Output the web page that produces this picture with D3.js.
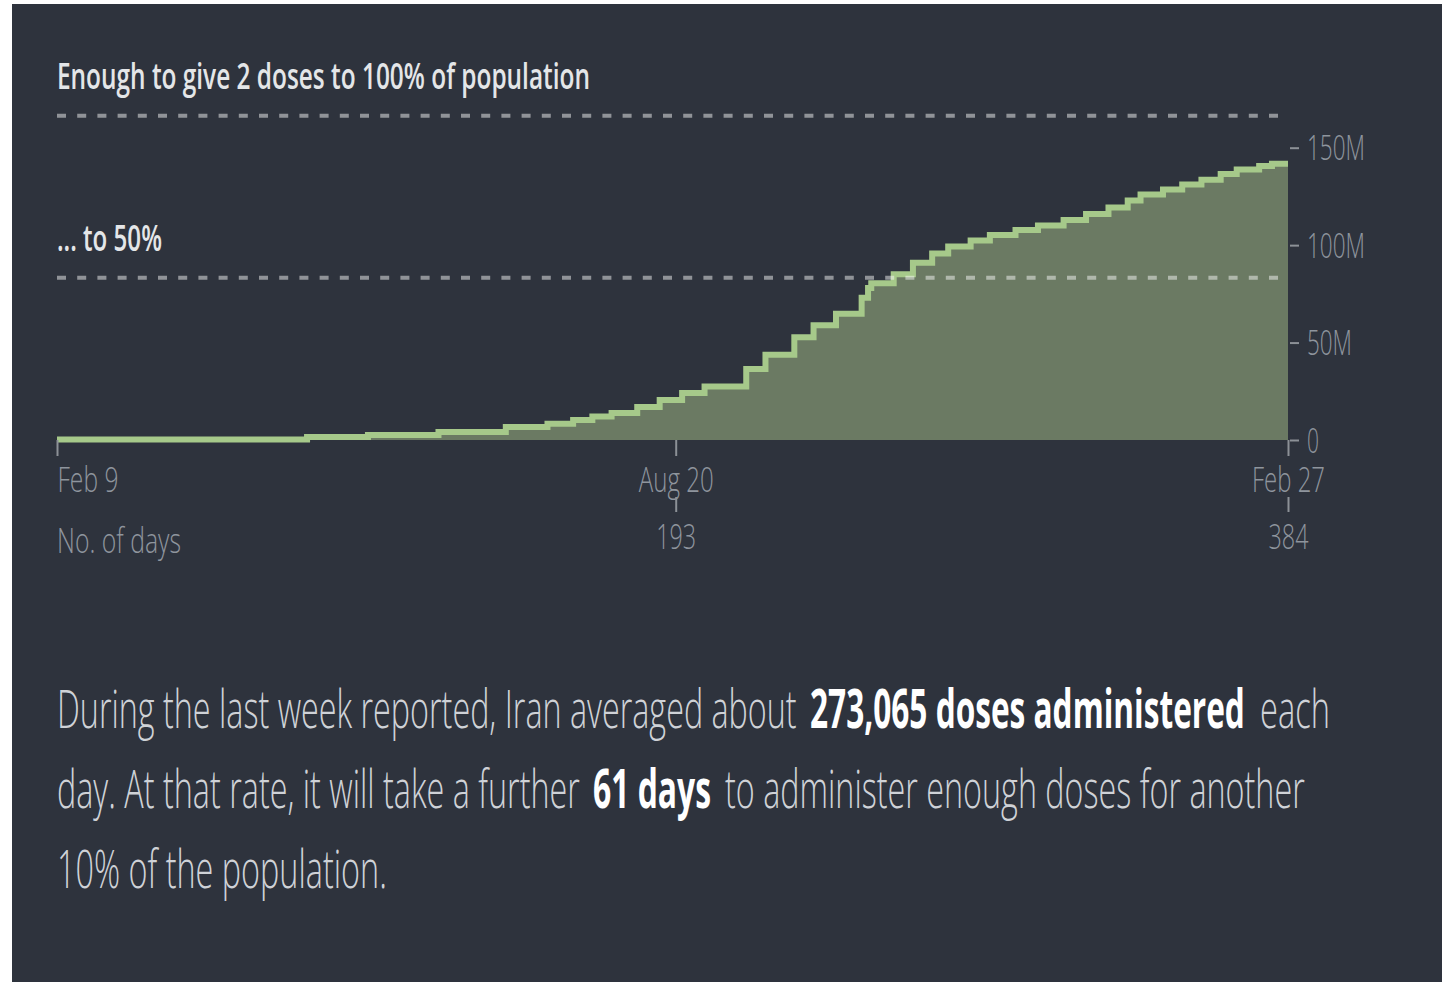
<!DOCTYPE html>
<html>
<head>
<meta charset="utf-8">
<script src="https://cdn.jsdelivr.net/npm/d3@7"></script>
<style>
  html, body { margin: 0; padding: 0; background: #ffffff; }
  svg { display: block; }
</style>
</head>
<body>
<script>
// ---------------- DATA ----------------
// days since Feb 9 (step start) and cumulative doses administered (millions)
const stepDays = [0, 78, 97, 119, 140, 153, 161, 167, 173, 181, 188, 195, 202, 215, 221, 230, 236, 243, 251, 253, 254, 261, 267, 273, 278, 285, 291, 299, 306, 314, 321, 328, 334, 338, 345, 351, 357, 363, 368, 375, 379, 384];
const dosesM  = [0.3, 1.5, 2.6, 4.1, 6.7, 8.4, 10.2, 12.0, 13.8, 16.9, 20.5, 24.1, 27.4, 36.4, 43.8, 52.7, 58.9, 64.8, 73.0, 78.0, 80.5, 85.0, 91.0, 95.7, 99.3, 102.4, 105.2, 107.8, 110.1, 112.9, 116.0, 119.3, 122.9, 126.0, 128.5, 131.1, 133.6, 136.5, 138.8, 140.6, 141.8, 141.8];
const populationM = 83.2;
const thresholdLabels = ["Enough to give 2 doses to 100% of population", "... to 50%"];
const thresholdValuesM = [2 * populationM, populationM];
const dateTickDays = [0, 193, 384];
const dateTickLabels = ["Feb 9", "Aug 20", "Feb 27"];
const countTickDays = [193, 384];
const countTickLabels = ["193", "384"];
const countAxisTitle = "No. of days";
const yTickValuesM = [0, 50, 100, 150];
const yTickLabels = ["0", "50M", "100M", "150M"];
const paragraph = [
  [{t: "During the last week reported, Iran averaged about", b: false}, {t: "273,065 doses administered", b: true}, {t: "each", b: false}],
  [{t: "day. At that rate, it will take a further", b: false}, {t: "61 days", b: true}, {t: "to administer enough doses for another", b: false}],
  [{t: "10% of the population.", b: false}]
];

// ---------------- LAYOUT ----------------
const W = 1450, H = 982;
const svg = d3.select("body").append("svg").attr("width", W).attr("height", H);
svg.append("rect").attr("x", 12).attr("y", 4).attr("width", 1430).attr("height", H - 4).attr("fill", "#2e333d");

const x = d3.scaleLinear().domain([0, 384]).range([57, 1288]);
const y = d3.scaleLinear().domain([0, 150]).range([440, 147.7]);

const data = stepDays.map((d, i) => ({d, v: dosesM[i]}));

const FONT = "'Open Sans', 'Noto Sans', Lato, sans-serif";

// condense a text horizontally to a target width (keeps it real text)
function fit(sel, widthFn) {
  sel.each(function (d, i) {
    const el = d3.select(this);
    const w = typeof widthFn === "function" ? widthFn(d, i) : widthFn;
    const nat = this.getComputedTextLength();
    const s = nat > 0 ? w / nat : 1;
    const tx = +el.attr("x") || 0, ty = +el.attr("y") || 0;
    el.attr("x", 0).attr("y", 0)
      .attr("transform", `translate(${tx},${ty}) scale(${s},1)`);
  });
}

// area + line
const area = d3.area().curve(d3.curveStepAfter).x(p => x(p.d)).y0(y(0)).y1(p => y(p.v));
const line = d3.line().curve(d3.curveStepAfter).x(p => x(p.d)).y(p => y(p.v));
svg.append("path").datum(data).attr("d", area).attr("fill", "#6b7a63");
svg.append("path").datum(data).attr("d", line).attr("fill", "none")
  .attr("stroke", "#a6c98a").attr("stroke-width", 6).attr("stroke-linejoin", "miter");

// threshold dashed lines
svg.selectAll("line.thr").data(thresholdValuesM).enter().append("line")
  .attr("class", "thr")
  .attr("x1", 57).attr("x2", 1282)
  .attr("y1", v => y(v)).attr("y2", v => y(v))
  .attr("stroke", "#ffffff").attr("stroke-opacity", 0.47)
  .attr("stroke-width", 4).attr("stroke-dasharray", "9,11.2");

const thrLabelW = [533, 105];
svg.selectAll("text.thr").data(thresholdValuesM).enter().append("text")
  .attr("class", "thr")
  .attr("x", 57).attr("y", v => y(v) - 27)
  .attr("fill", "#e4e6e8").attr("font-family", FONT).attr("font-weight", 600)
  .attr("font-size", 36)
  .text((v, i) => thresholdLabels[i])
  .call(fit, (v, i) => thrLabelW[i]);

// y axis (right)
const yLabW = [12, 45, 58, 58];
const yAxis = d3.axisRight(y).tickValues(yTickValuesM).tickSize(11).tickPadding(8)
  .tickFormat((v, i) => yTickLabels[i]);
const gy = svg.append("g").attr("transform", "translate(1288,0)").call(yAxis);
gy.select(".domain").remove();
gy.selectAll(".tick line").attr("stroke", "#8c9197").attr("stroke-width", 2).attr("x1", 2);
gy.selectAll(".tick text").attr("fill", "#8f959d").attr("font-family", FONT).attr("font-size", 34)
  .attr("font-weight", 300).attr("dy", "0.36em")
  .call(fit, (v, i) => yLabW[i]);

// x date axis
const dLabW = [61, 75, 73];
const xAxis = d3.axisBottom(x).tickValues(dateTickDays).tickSize(16)
  .tickFormat((d, i) => dateTickLabels[i]);
const gx = svg.append("g").attr("transform", "translate(0,440)").call(xAxis);
gx.select(".domain").remove();
gx.selectAll(".tick line").attr("stroke", "#8c9197").attr("stroke-width", 2);
gx.selectAll(".tick text").attr("fill", "#8f959d").attr("font-family", FONT).attr("font-size", 34)
  .attr("font-weight", 300).attr("y", 52).attr("dy", 0)
  .attr("text-anchor", (d, i) => i === 0 ? "start" : "middle")
  .call(fit, (d, i) => dLabW[i]);

// x day-count axis
const cLabW = [40, 40];
const cAxis = d3.axisBottom(x).tickValues(countTickDays).tickSize(15)
  .tickFormat((d, i) => countTickLabels[i]);
const gc = svg.append("g").attr("transform", "translate(0,497)").call(cAxis);
gc.select(".domain").remove();
gc.selectAll(".tick line").attr("stroke", "#8c9197").attr("stroke-width", 2);
gc.selectAll(".tick text").attr("fill", "#8f959d").attr("font-family", FONT).attr("font-size", 34)
  .attr("font-weight", 300).attr("y", 52).attr("dy", 0)
  .call(fit, (d, i) => cLabW[i]);
svg.append("text").attr("x", 57).attr("y", 553)
  .attr("fill", "#8f959d").attr("font-family", FONT).attr("font-size", 34).attr("font-weight", 300)
  .text(countAxisTitle)
  .call(fit, 124);

// paragraph
const segLayout = [
  [[57, 740], [810, 435], [1260, 70]],
  [[57, 523], [593, 118], [725, 580]],
  [[57, 330]]
];
const baselines = [728, 808, 888];
paragraph.forEach((segs, li) => {
  segs.forEach((s, si) => {
    svg.append("text")
      .attr("x", segLayout[li][si][0]).attr("y", baselines[li])
      .attr("font-family", FONT).attr("font-size", 53)
      .attr("font-weight", s.b ? 700 : 300)
      .attr("fill", s.b ? "#ffffff" : "#cfd2d7")
      .text(s.t)
      .call(fit, segLayout[li][si][1]);
  });
});
</script>
</body>
</html>
